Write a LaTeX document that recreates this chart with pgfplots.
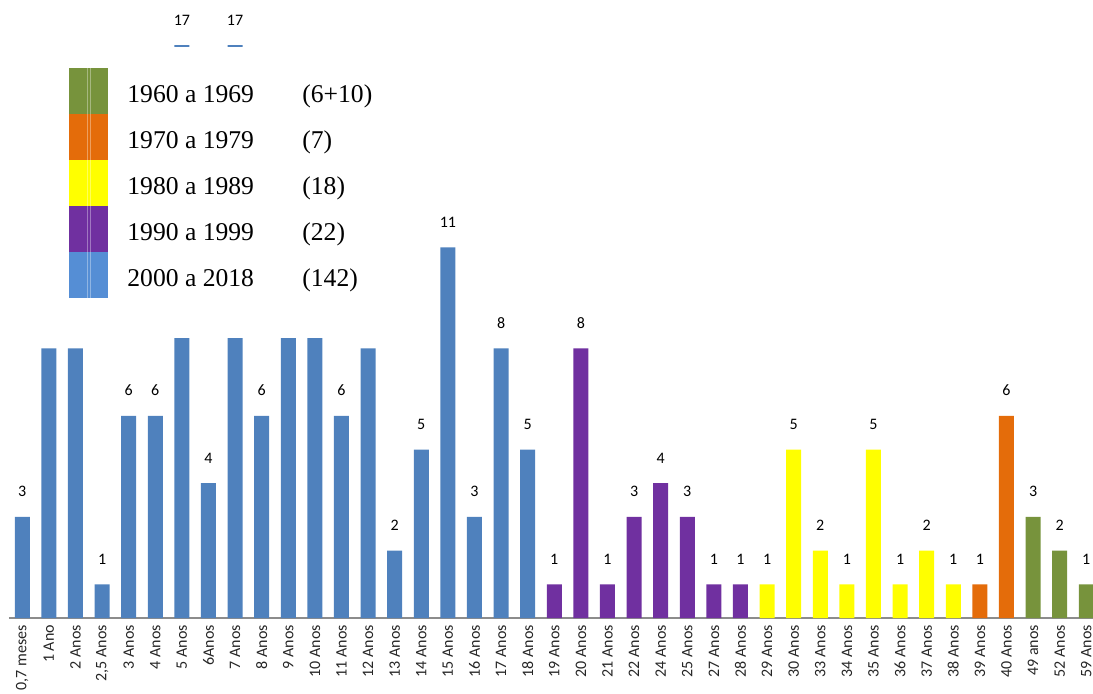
\documentclass[border=0pt]{standalone}
\usepackage{pgfplots}
\pgfplotsset{compat=1.18}
\usepackage{fontspec}
\setmainfont{Liberation Serif}
\newfontfamily\cali{Carlito}
\definecolor{cblue}{HTML}{4F81BD}
\definecolor{cpurple}{HTML}{7030A0}
\definecolor{cyellow}{HTML}{FFFF00}
\definecolor{corange}{HTML}{E46C0A}
\definecolor{cgreen}{HTML}{77933C}
\definecolor{lblue}{HTML}{558ED5}
\begin{document}
\begin{tikzpicture}
\useasboundingbox (0,0) rectangle (546.5pt,346.5pt);
\clip (0,0) rectangle (546.5pt,346.5pt);
\begin{axis}[
 at={(4.5pt,37.5pt)}, anchor=south west,
 scale only axis, width=545.3pt, height=309pt,
 xmin=-0.5, xmax=40.5, ymin=0, ymax=18.34,
 axis x line*=bottom, axis y line=none,
 x axis line style={-, draw=black!45, line width=0.8pt},
 xtick={0,...,40},
 xticklabels={{0,7 meses},1 Ano,2 Anos,{2,5 Anos},3 Anos,4 Anos,5 Anos,6Anos,7 Anos,8 Anos,9 Anos,10 Anos,11 Anos,12 Anos,13 Anos,14 Anos,15 Anos,16 Anos,17 Anos,18 Anos,19 Anos,20 Anos,21 Anos,22 Anos,24 Anos,25 Anos,27 Anos,28 Anos,29 Anos,30 Anos,33 Anos,34 Anos,35 Anos,36 Anos,37 Anos,38 Anos,39 Anos,40 Anos,49 anos,52 Anos,59 Anos},
 xticklabel style={rotate=90, anchor=east, font=\cali\fontsize{8}{9}\selectfont, text=black!85},
 major tick length=0pt,
 ytick=\empty,
 ybar, bar width=7.5pt,
 point meta=explicit symbolic,
 nodes near coords={\pgfplotspointmeta},
 every node near coord/.append style={font=\cali\fontsize{8}{9}\selectfont, text=black, yshift=6.5pt},
 clip=false,
]
% labels of the bars hidden behind the legend panel are left empty
\addplot[fill=cblue, draw=none, bar shift=0pt] coordinates {(0,3) [3] (1,8) [] (2,8) [] (3,1) [1] (4,6) [6] (5,6) [6] (6,17) [17] (7,4) [4] (8,17) [17] (9,6) [6] (10,9) [] (11,9) [] (12,6) [6] (13,8) [] (14,2) [2] (15,5) [5] (16,11) [11] (17,3) [3] (18,8) [8] (19,5) [5]};
\addplot[fill=cpurple, draw=none, bar shift=0pt] coordinates {(20,1) [1] (21,8) [8] (22,1) [1] (23,3) [3] (24,4) [4] (25,3) [3] (26,1) [1] (27,1) [1]};
\addplot[fill=cyellow, draw=none, bar shift=0pt] coordinates {(28,1) [1] (29,5) [5] (30,2) [2] (31,1) [1] (32,5) [5] (33,1) [1] (34,2) [2] (35,1) [1]};
\addplot[fill=corange, draw=none, bar shift=0pt] coordinates {(36,1) [1] (37,6) [6]};
\addplot[fill=cgreen, draw=none, bar shift=0pt] coordinates {(38,3) [3] (39,2) [2] (40,1) [1]};
\end{axis}
% white panel (legend picture) covering part of the chart
\fill[white] (0pt,177.5pt) rectangle (205pt,323pt);
% legend swatches
\fill[cgreen]  (34.5pt,289.5pt) rectangle (54pt,312.5pt);
\fill[corange] (34.5pt,266.5pt) rectangle (54pt,289.5pt);
\fill[cyellow] (34.5pt,243.5pt) rectangle (54pt,266.5pt);
\fill[cpurple] (34.5pt,220.5pt) rectangle (54pt,243.5pt);
\fill[lblue]   (34.5pt,197.5pt) rectangle (54pt,220.5pt);
\draw[white, opacity=0.35, line width=0.4pt] (43.5pt,197.5pt) -- (43.5pt,312.5pt);
\draw[white, opacity=0.35, line width=0.4pt] (45pt,197.5pt) -- (45pt,312.5pt);
% legend texts
\begin{scope}[every node/.style={anchor=base west, inner sep=0pt, font=\fontsize{12.8}{14}\selectfont}]
\node at (63.5pt,295.5pt) {1960 a 1969};
\node at (151pt,295.5pt) {(6+10)};
\node at (63.5pt,272.5pt) {1970 a 1979};
\node at (151pt,272.5pt) {(7)};
\node at (63.5pt,249.5pt) {1980 a 1989};
\node at (151pt,249.5pt) {(18)};
\node at (63.5pt,226.5pt) {1990 a 1999};
\node at (151pt,226.5pt) {(22)};
\node at (63.5pt,203.5pt) {2000 a 2018};
\node at (151pt,203.5pt) {(142)};
\end{scope}
\end{tikzpicture}
\end{document}
